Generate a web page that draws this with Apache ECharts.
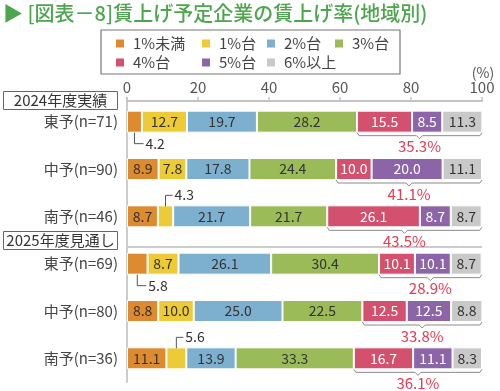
<!DOCTYPE html>
<html>
<head>
<meta charset="utf-8">
<script src="https://cdn.jsdelivr.net/npm/echarts@6/dist/echarts.min.js"></script>
<style>html,body{margin:0;padding:0;background:#fff;}#c{width:500px;height:391px;}</style>
</head>
<body>
<div id="c"></div>
<script>
const categories = ['東予(n=71)', '中予(n=90)', '南予(n=46)', '東予(n=69)', '中予(n=80)', '南予(n=36)'];
const legendNames = ['1%未満', '1%台', '2%台', '3%台', '4%台', '5%台', '6%以上'];
const under1 = [4.2, 8.9, 8.7, 5.8, 8.8, 11.1];
const pct1 = [12.7, 7.8, 4.3, 8.7, 10.0, 5.6];
const pct2 = [19.7, 17.8, 21.7, 26.1, 25.0, 13.9];
const pct3 = [28.2, 24.4, 21.7, 30.4, 22.5, 33.3];
const pct4 = [15.5, 10.0, 26.1, 10.1, 12.5, 16.7];
const pct5 = [8.5, 20.0, 8.7, 10.1, 12.5, 11.1];
const pct6plus = [11.3, 11.1, 8.7, 8.7, 8.8, 8.3];
const over4Totals = [35.3, 41.1, 43.5, 28.9, 33.8, 36.1];
const xTickValues = [0, 20, 40, 60, 80, 100];
const sectionLabels = ['2024年度実績', '2025年度見通し'];
const titleText = '▶ [図表－8]賃上げ予定企業の賃上げ率(地域別)';
const unitLabel = '(%)';

const seriesData = [under1, pct1, pct2, pct3, pct4, pct5, pct6plus];
const colors = ['#DE8A2E', '#ECCB36', '#7DB0CE', '#9BBB59', '#D4506F', '#8C65A8', '#C9C9C9'];
const labelColors = ['#333', '#333', '#333', '#333', '#fff', '#fff', '#333'];
const FONT = '"Noto Sans CJK JP", "Noto Sans", sans-serif';
const SMALL = 6;

const chart = echarts.init(document.getElementById('c'), null, {renderer: 'canvas'});

const legendPos = [[114, 36], [200, 36], [265, 36], [333, 36], [114, 55], [200, 55], [265, 55]];

const barSeries = legendNames.map((name, si) => ({
  name: name,
  type: 'bar',
  stack: 'total',
  barWidth: 22,
  data: seriesData[si],
  itemStyle: {color: colors[si], borderColor: '#fff', borderWidth: 1},
  label: {
    show: true,
    position: 'inside',
    fontSize: 14,
    fontFamily: FONT,
    color: labelColors[si],
    formatter: p => (p.value < SMALL ? '' : p.value.toFixed(1))
  },
  emphasis: {disabled: true}
}));

const annotation = {
  type: 'custom',
  name: 'annot',
  coordinateSystem: 'cartesian2d',
  silent: true,
  z: 10,
  data: categories.map((c, i) => [0, i]),
  encode: {x: 0, y: 1},
  renderItem: function (params, api) {
    const i = params.dataIndex;
    const children = [];
    const center = api.coord([0, i]);
    const half = 10;
    const yb = center[1] + half;
    const yt = center[1] - half;
    const start = under1[i] + pct1[i] + pct2[i] + pct3[i];
    const end = Math.min(100, start + pct4[i] + pct5[i] + pct6plus[i]);
    const x1 = api.coord([start, i])[0];
    const x2 = api.coord([end, i])[0];
    const xc = (x1 + x2) / 2;
    children.push({
      type: 'polyline',
      shape: {points: [[x1, yb + 1], [x1 + 2, yb + 4], [xc - 3, yb + 4], [xc, yb + 7], [xc + 3, yb + 4], [x2 - 2, yb + 4], [x2, yb + 1]]},
      style: {stroke: '#8a8a8a', lineWidth: 1, fill: null}
    });
    children.push({
      type: 'text',
      style: {text: over4Totals[i].toFixed(1) + '%', x: xc, y: center[1] + 25, align: 'center', verticalAlign: 'middle', fontSize: 15, fontFamily: FONT, fill: '#E53A52'}
    });
    [[under1, 0], [pct1, 1]].forEach(([arr, si]) => {
      const v = arr[i];
      if (v >= SMALL) return;
      let base = 0;
      for (let k = 0; k < si; k++) base += seriesData[k][i];
      const xm = api.coord([base + v / 2, i])[0];
      if (si === 0) {
        const yl = yb + 12;
        children.push({type: 'polyline', shape: {points: [[xm, yb + 1], [xm, yl], [xm + 9, yl]]}, style: {stroke: '#555', lineWidth: 1, fill: null}});
        children.push({type: 'text', style: {text: v.toFixed(1), x: xm + 11, y: yl, align: 'left', verticalAlign: 'middle', fontSize: 14, fontFamily: FONT, fill: '#333'}});
      } else {
        const yl = yt - 11;
        children.push({type: 'polyline', shape: {points: [[xm, yt], [xm, yl], [xm + 7, yl]]}, style: {stroke: '#555', lineWidth: 1, fill: null}});
        children.push({type: 'text', style: {text: v.toFixed(1), x: xm + 9, y: yl - 1, align: 'left', verticalAlign: 'middle', fontSize: 14, fontFamily: FONT, fill: '#333'}});
      }
    });
    return {type: 'group', children: children};
  }
};

const option = {
  animation: false,
  backgroundColor: '#fff',
  textStyle: {fontFamily: FONT},
  title: {
    text: titleText, left: 3, top: 3, padding: 0,
    textStyle: {fontSize: 20, color: '#4DA54D', fontWeight: 500, fontFamily: FONT}
  },
  legend: legendNames.map((n, i) => ({
    data: [n], left: legendPos[i][0], top: legendPos[i][1], padding: 0,
    icon: 'rect', itemWidth: 10, itemHeight: 10, selectedMode: false,
    textStyle: {fontSize: 15, color: '#444', fontFamily: FONT, padding: [0, 0, 0, 3]}
  })),
  grid: {left: 127, right: 18, top: 98, height: 284, containLabel: false},
  xAxis: {
    type: 'value', position: 'top', min: xTickValues[0], max: xTickValues[xTickValues.length - 1],
    interval: xTickValues[1] - xTickValues[0], offset: -3,
    axisLine: {show: true, lineStyle: {color: '#c4c4c4', width: 2}},
    axisTick: {show: true, length: 4, lineStyle: {color: '#c4c4c4', width: 1.5}},
    axisLabel: {fontSize: 15, color: '#555', margin: 6, fontFamily: FONT},
    splitLine: {show: false}
  },
  yAxis: {
    type: 'category', inverse: true, data: categories,
    axisLine: {show: true, lineStyle: {color: '#cccccc', width: 2}},
    axisTick: {show: false},
    axisLabel: {fontSize: 15, color: '#444', margin: 9, fontFamily: FONT}
  },
  graphic: [
    {type: 'rect', shape: {x: 101, y: 30, width: 299, height: 44}, style: {fill: 'none', stroke: '#777', lineWidth: 1.2}},
    {type: 'text', style: {text: unitLabel, x: 483, y: 73, align: 'center', verticalAlign: 'middle', fontSize: 14, fontFamily: FONT, fill: '#555'}},
    {type: 'line', shape: {x1: 127, y1: 247, x2: 482, y2: 247}, style: {stroke: '#cccccc', lineWidth: 2}},
    {type: 'rect', shape: {x: 3.5, y: 91.5, width: 114, height: 18}, style: {fill: '#fff', stroke: '#666', lineWidth: 1}},
    {type: 'text', style: {text: sectionLabels[0], x: 60.5, y: 100.5, align: 'center', verticalAlign: 'middle', fontSize: 15, fontFamily: FONT, fill: '#333'}},
    {type: 'rect', shape: {x: 3.5, y: 231.5, width: 114, height: 18}, style: {fill: '#fff', stroke: '#666', lineWidth: 1}},
    {type: 'text', style: {text: sectionLabels[1], x: 60.5, y: 240.5, align: 'center', verticalAlign: 'middle', fontSize: 15, fontFamily: FONT, fill: '#333'}}
  ],
  series: barSeries.concat([annotation])
};
chart.setOption(option);
</script>
</body>
</html>
